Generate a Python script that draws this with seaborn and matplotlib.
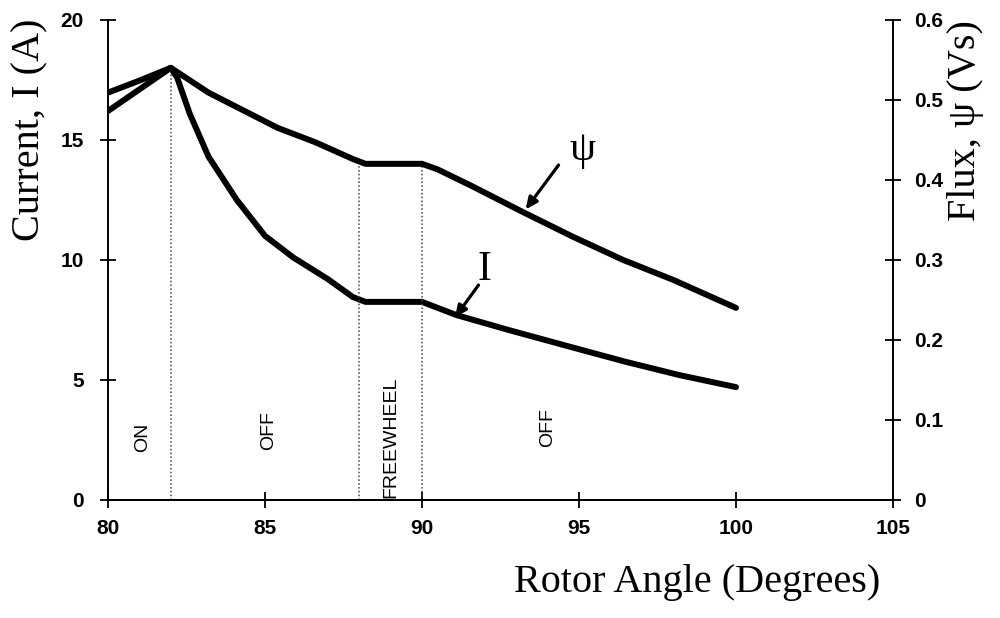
import numpy as np
import pandas as pd
import seaborn as sns
import matplotlib.pyplot as plt

# values
current_angle = [80, 81, 82, 82.2, 82.6, 83.2, 84.1, 85.0, 85.9, 87.0, 87.8, 88.2,
                 90.0, 91.1, 92.7, 94.8, 96.5, 98.2, 100]
current = [16.2, 17.1, 18.0, 17.6, 16.1, 14.3, 12.5, 11.0, 10.1, 9.2, 8.45, 8.25,
           8.25, 7.7, 7.1, 6.35, 5.75, 5.2, 4.7]

flux_angle = [80, 81, 82, 83.2, 84.2, 85.4, 86.6, 87.8, 88.2, 90.0, 90.5, 91.6,
              93.2, 94.8, 96.4, 98.0, 100]
flux = [0.509, 0.524, 0.540, 0.509, 0.489, 0.465, 0.447, 0.426, 0.420, 0.420,
        0.413, 0.392, 0.360, 0.329, 0.300, 0.275, 0.240]

# switching boundaries (dotted lines) and their tops, in amps
boundary_angle = [82, 88, 90]
boundary_top = [18.0, 14.0, 14.0]

# region labels
region_names = ["ON", "OFF", "FREEWHEEL", "OFF"]
region_x = [81.1, 85.1, 89.0, 94.0]
region_y = [2.6, 2.9, 2.6, 3.0]

df_i = pd.DataFrame({"angle": current_angle, "current": current})
df_f = pd.DataFrame({"angle": flux_angle, "flux": flux})

sns.set_style("ticks")
plt.rcParams['font.family'] = ['Liberation Sans', 'DejaVu Sans']
plt.rcParams['text.color'] = 'black'

fig, ax = plt.subplots(figsize=(10, 6.18), dpi=100)
fig.subplots_adjust(left=0.108, right=0.893, bottom=0.191, top=0.968)
ax2 = ax.twinx()

sns.lineplot(data=df_i, x="angle", y="current", ax=ax, color="black", lw=4.3,
             sort=False, solid_joinstyle="round", solid_capstyle="round")
sns.lineplot(data=df_f, x="angle", y="flux", ax=ax2, color="black", lw=4.3,
             sort=False, solid_joinstyle="round", solid_capstyle="round")

ax.vlines(boundary_angle, 0, boundary_top, colors="#444444", linestyles=(0, (1, 1.5)), lw=1.1)

for name, x, y in zip(region_names, region_x, region_y):
    ax.text(x, y, name, rotation=90, ha="center", va="center", fontsize=14)

ax.set_xlim(80, 105)
ax.set_ylim(0, 20)
ax2.set_ylim(0, 0.6)
ax.set_xticks([80, 85, 90, 95, 100, 105])
ax.set_yticks([0, 5, 10, 15, 20])
ax2.set_yticks([0, 0.1, 0.2, 0.3, 0.4, 0.5, 0.6])
ax2.set_yticklabels(["0", "0.1", "0.2", "0.3", "0.4", "0.5", "0.6"])

for a in (ax, ax2):
    a.spines["top"].set_visible(False)
    a.set_xlabel("")
    a.set_ylabel("")
    for s in a.spines.values():
        s.set_linewidth(1.4)
        s.set_color("black")
    a.tick_params(direction="inout", length=11, width=1.3, labelsize=15,
                  colors="black", labelcolor="black")
    for lab in a.get_xticklabels() + a.get_yticklabels():
        lab.set_fontweight("bold")
ax.spines["right"].set_visible(False)
ax2.spines["left"].set_visible(False)
ax.tick_params(axis="x", pad=8)
ax.tick_params(axis="y", pad=12)
ax2.tick_params(axis="y", pad=10)

# curve labels with arrows
arrow = dict(arrowstyle="-|>,head_length=0.7,head_width=0.32", color="black",
             lw=2.3, shrinkA=0, shrinkB=0)
ax.annotate("", xy=(93.3, 12.1), xytext=(94.35, 13.95), arrowprops=arrow)
ax.annotate("", xy=(91.05, 7.6), xytext=(91.8, 8.95), arrowprops=arrow)
ax.text(95.1, 14.6, "\u03c8", fontsize=30, family="Liberation Serif",
        ha="center", va="center")
ax.text(92.0, 9.6, "I", fontsize=30, family="Liberation Serif",
        ha="center", va="center")

fig.text(0.697, 0.058, "Rotor Angle (Degrees)", ha="center", va="center",
         fontsize=29, family="Liberation Serif")
fig.text(0.03, 0.79, "Current, I (A)", rotation=90, ha="center", va="center",
         fontsize=29, family="Liberation Serif")
fig.text(0.966, 0.805, "Flux, \u03c8 (Vs)", rotation=90, ha="center", va="center",
         fontsize=29, family="Liberation Serif")

fig.savefig("out.png", dpi=100)
